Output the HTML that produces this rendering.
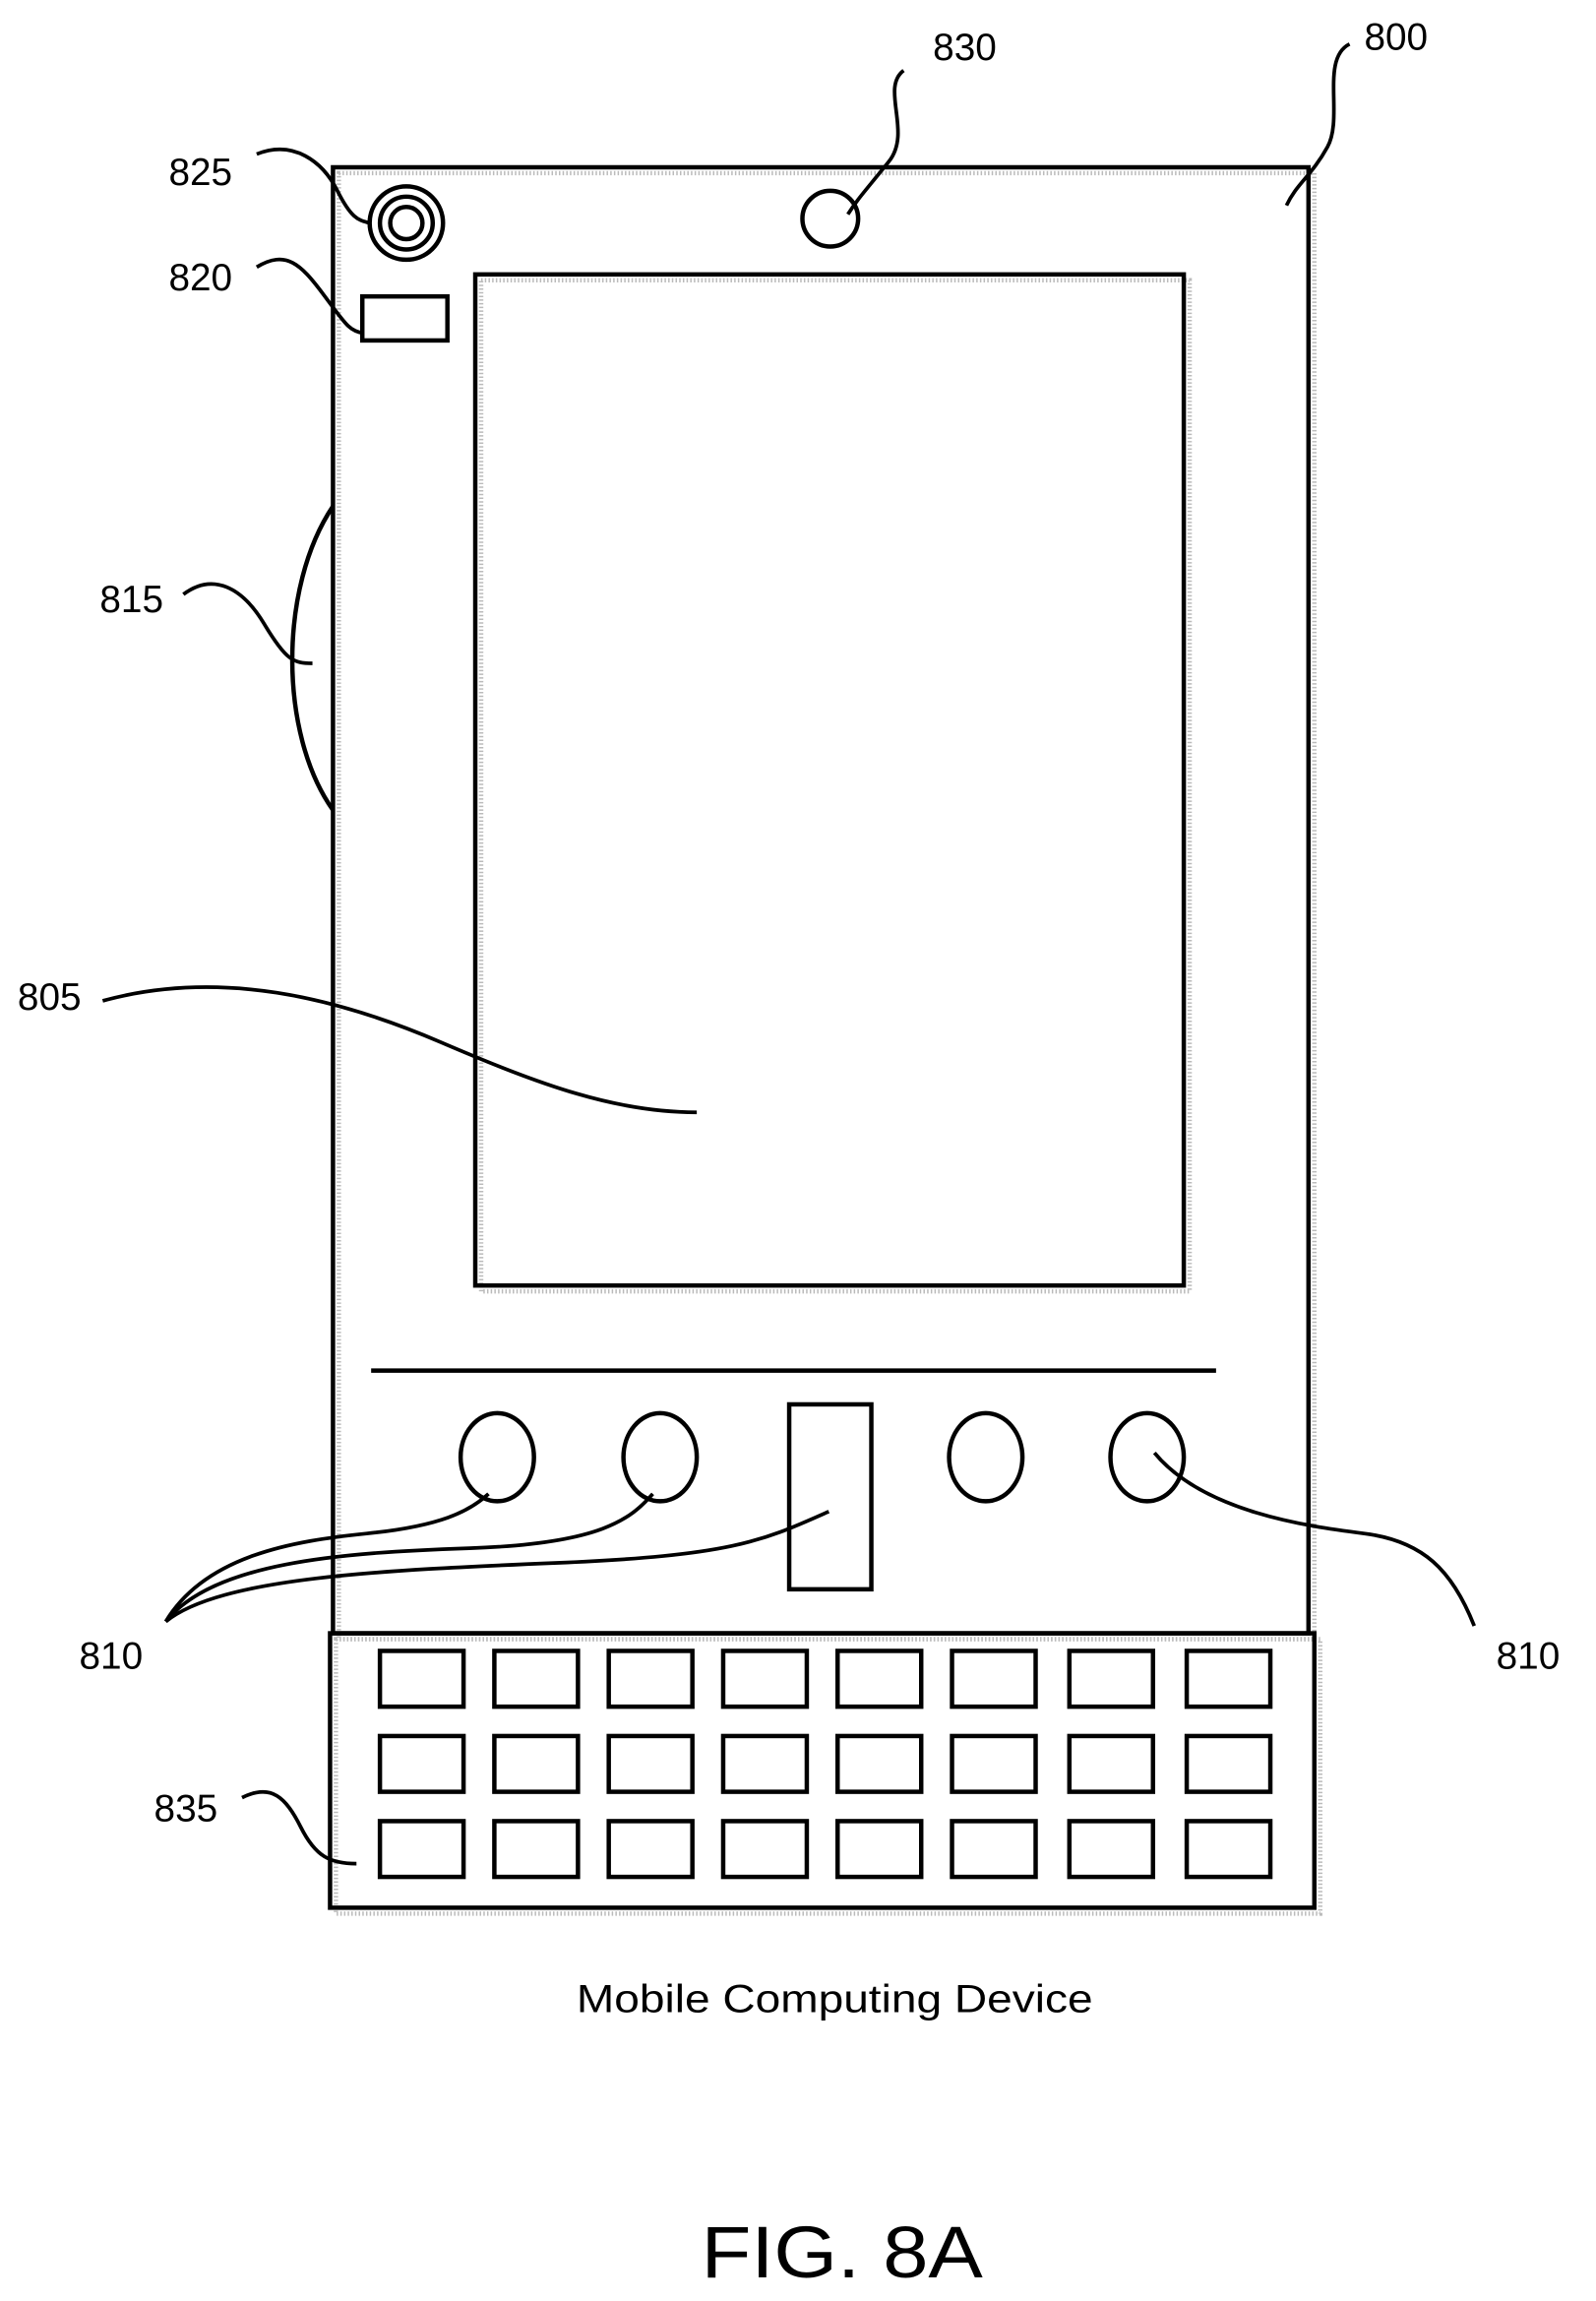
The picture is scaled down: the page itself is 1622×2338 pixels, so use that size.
<!DOCTYPE html>
<html><head><meta charset="utf-8"><style>
html,body{margin:0;padding:0;background:#fff}
svg{display:block}
text{font-family:"Liberation Sans",sans-serif;fill:#000}
</style></head><body>
<svg width="1622" height="2338" viewBox="0 0 1088 1568" preserveAspectRatio="none" xmlns="http://www.w3.org/2000/svg">
<g fill="none" stroke="#bbb" stroke-width="3" stroke-dasharray="1 1.5">
<rect x="231" y="118" width="665" height="999"/>
<rect x="229" y="1117" width="671" height="187"/>
<rect x="328" y="191" width="483" height="689"/>
</g>
<g fill="none" stroke="#000" stroke-width="3">
<rect x="227" y="114" width="665" height="999"/>
<rect x="324" y="187" width="483" height="689"/>
<line x1="253" y1="934" x2="829" y2="934"/>
<ellipse cx="339" cy="993" rx="25" ry="30"/>
<ellipse cx="450" cy="993" rx="25" ry="30"/>
<ellipse cx="672" cy="993" rx="25" ry="30"/>
<ellipse cx="782" cy="993" rx="25" ry="30"/>
<rect x="538" y="957" width="56" height="126"/>
<rect x="225" y="1113" width="671" height="187"/>
<circle cx="277" cy="152" r="25"/>
<circle cx="277" cy="152" r="18"/>
<circle cx="277" cy="152" r="11"/>
<rect x="247" y="202" width="58" height="30"/>
<circle cx="566" cy="149" r="19"/>
<path d="M227 345 C190 400,190 500,227 552"/>
</g>
<g id="keys" fill="none" stroke="#000" stroke-width="3"></g>
<g fill="none" stroke="#000" stroke-width="2.5">
<path d="M616 48 C600 60,622 90,606 110 S585 135 578 146"/>
<path d="M920 30 C900 40,916 80,905 100 S884 125 877 140"/>
<path d="M175 105 C200 95,220 110,230 130 S245 150 252 152"/>
<path d="M175 182 C195 170,205 180,220 200 S238 226 248 227"/>
<path d="M125 405 C145 390,165 400,180 425 S200 452 213 452"/>
<path d="M70 682 C150 660,230 680,300 710 S420 758 475 758"/>
<path d="M113 1105 C140 1060,200 1050,250 1045 S320 1030 333 1018"/>
<path d="M113 1105 C145 1065,230 1058,320 1055 S430 1035 445 1018"/>
<path d="M113 1105 C150 1075,260 1070,380 1065 S520 1050 565 1030"/>
<path d="M1005 1108 C990 1070,970 1050,930 1045 S820 1030 787 990"/>
<path d="M165 1225 C185 1215,195 1225,205 1245 S225 1270 243 1270"/>
</g>
<g font-size="26">
<text x="636" y="41">830</text>
<text x="930" y="34">800</text>
<text x="115" y="126">825</text>
<text x="115" y="198">820</text>
<text x="68" y="417">815</text>
<text x="12" y="688">805</text>
<text x="54" y="1137">810</text>
<text x="1020" y="1137">810</text>
<text x="105" y="1241">835</text>
</g>
<text x="393" y="1371" font-size="27" textLength="352" lengthAdjust="spacingAndGlyphs">Mobile Computing Device</text>
<text x="478" y="1552" font-size="50" textLength="192" lengthAdjust="spacingAndGlyphs">FIG. 8A</text>
</svg>
<script>
const cols=[259,337,415,493,571,649,729,809];
const rows=[1125,1183,1241];
const g=document.getElementById('keys');
rows.forEach((y,ri)=>cols.forEach((x,ci)=>{
 const r=document.createElementNS('http://www.w3.org/2000/svg','rect');
 r.setAttribute('x',x);r.setAttribute('y',y);r.setAttribute('width',57);r.setAttribute('height',38);
 
 
 g.appendChild(r);
}));
</script>
</body></html>
